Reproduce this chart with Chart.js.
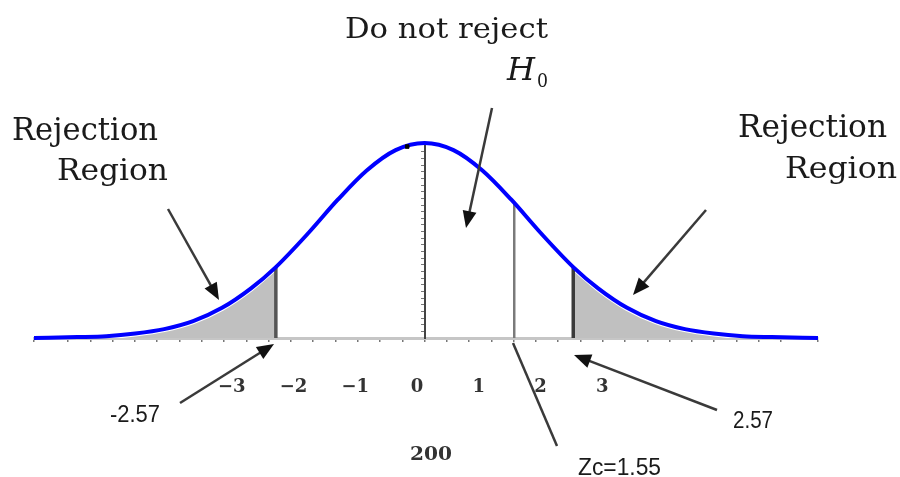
<!DOCTYPE html>
<html>
<head>
<meta charset="utf-8">
<script src="https://cdn.jsdelivr.net/npm/chart.js@4.4.1/dist/chart.umd.min.js"></script>
<style>
  html, body { margin: 0; padding: 0; background: #fff; }
  #wrap { width: 900px; height: 477px; }
</style>
</head>
<body>
<div id="wrap"><canvas id="chart"></canvas></div>
<script>
// curve heights, at these z positions
const zValues = [-6.75, -6, -5.5, -5, -4.5, -4, -3.5, -3, -2.57, -2, -1.5, -1, -0.5, 0, 0.5, 1, 1.5, 2, 2.57, 3, 3.5, 4, 4.5, 5, 5.5, 6, 6.8];
const density = [0.000, 0.001, 0.002, 0.005, 0.010, 0.019, 0.034, 0.056, 0.080, 0.119, 0.156, 0.189, 0.212, 0.220, 0.212, 0.189, 0.156, 0.119, 0.080, 0.056, 0.034, 0.019, 0.010, 0.005, 0.002, 0.001, 0.000];

// critical values and the height of the curve there
const cutZ = [-2.57, 1.55, 2.57];
const cutHeight = [0.080, 0.153, 0.080];
const cutColors = ['#555', '#7a7a7a', '#3a3a3a'];

// tick labels under the axis
const tickLabels = [-3, -2, -1, 0, 1, 2, 3];

const curve = zValues.map((z, i) => ({ x: z, y: density[i] }));
const leftTail = curve.filter(p => p.x <= cutZ[0]);
const rightTail = curve.filter(p => p.x >= cutZ[2]);

const serif = '"DejaVu Serif", "Liberation Serif", serif';
const sans = '"Liberation Sans", Arial, sans-serif';

// text and arrows laid over the plot
const notes = [
  { text: 'Do not reject', x: 345, y: 38, w: 203, font: '28px ' + serif },
  { text: 'H', x: 507, y: 80, w: 28, font: 'italic 31px ' + serif },
  { text: '0', x: 537, y: 87, w: 11, font: '19px ' + serif },
  { text: 'Rejection', x: 12, y: 140, w: 146, font: '31px ' + serif },
  { text: 'Region', x: 57, y: 180, w: 111, font: '30px ' + serif },
  { text: 'Rejection', x: 738, y: 137, w: 149, font: '31px ' + serif },
  { text: 'Region', x: 785, y: 178, w: 112, font: '30px ' + serif },
  { text: '-2.57', x: 110, y: 422, w: 50, font: '24px ' + sans },
  { text: '2.57', x: 733, y: 428, w: 40, font: '24px ' + sans },
  { text: 'Zc=1.55', x: 578, y: 475, w: 83, font: '23px ' + sans },
  { text: '200', x: 410, y: 460, w: 42, font: 'bold 19px ' + serif, color: '#333' }
];
const arrows = [
  { from: [168, 209], to: [219, 300], head: true },
  { from: [492, 108], to: [466, 228], head: true },
  { from: [706, 210], to: [633, 295], head: true },
  { from: [180, 403], to: [274, 344], head: true },
  { from: [717, 410], to: [574, 355], head: true },
  { from: [513, 343], to: [557, 446], head: false }
];

const overlay = {
  id: 'overlay',
  afterDraw(chart) {
    const ctx = chart.ctx;
    ctx.save();
    ctx.textBaseline = 'alphabetic';
    ctx.textAlign = 'left';
    notes.forEach(n => {
      ctx.font = n.font;
      ctx.fillStyle = n.color || '#1a1a1a';
      const sx = n.w / ctx.measureText(n.text).width;
      ctx.save();
      ctx.translate(n.x, n.y);
      ctx.scale(sx, 1);
      ctx.fillText(n.text, 0, 0);
      ctx.restore();
    });
    arrows.forEach(a => {
      const [x1, y1] = a.from;
      const [x2, y2] = a.to;
      const ang = Math.atan2(y2 - y1, x2 - x1);
      const len = 17, half = 7;
      const ex = a.head ? x2 - Math.cos(ang) * len * 0.8 : x2;
      const ey = a.head ? y2 - Math.sin(ang) * len * 0.8 : y2;
      ctx.strokeStyle = '#3a3a3a';
      ctx.lineWidth = 2.5;
      ctx.beginPath();
      ctx.moveTo(x1, y1);
      ctx.lineTo(ex, ey);
      ctx.stroke();
      if (a.head) {
        const bx = x2 - Math.cos(ang) * len;
        const by = y2 - Math.sin(ang) * len;
        ctx.fillStyle = '#111';
        ctx.beginPath();
        ctx.moveTo(x2, y2);
        ctx.lineTo(bx - Math.sin(ang) * half, by + Math.cos(ang) * half);
        ctx.lineTo(bx + Math.sin(ang) * half, by - Math.cos(ang) * half);
        ctx.closePath();
        ctx.fill();
      }
    });
    ctx.restore();
  }
};

const cutSets = cutZ.map((z, i) => ({
  data: [{ x: z, y: 0 }, { x: z, y: cutHeight[i] }],
  borderColor: cutColors[i],
  borderWidth: i === 1 ? 2.5 : 3.5,
  pointRadius: 0,
  fill: false,
  order: 3
}));

new Chart(document.getElementById('chart'), {
  type: 'line',
  data: {
    datasets: [
      {
        data: leftTail,
        backgroundColor: '#c0c0c0',
        borderColor: '#fff',
        borderWidth: 6,
        fill: 'origin',
        pointRadius: 0,
        cubicInterpolationMode: 'monotone',
        order: 5
      },
      {
        data: rightTail,
        backgroundColor: '#c0c0c0',
        borderColor: '#fff',
        borderWidth: 6,
        fill: 'origin',
        pointRadius: 0,
        cubicInterpolationMode: 'monotone',
        order: 5
      },
      ...cutSets,
      {
        data: curve,
        borderColor: '#0000ff',
        borderWidth: 4,
        pointRadius: 0,
        fill: false,
        cubicInterpolationMode: 'monotone',
        clip: false,
        order: 1
      },
      {
        data: [{ x: -0.3, y: 0.216 }],
        showLine: false,
        pointStyle: 'rect',
        pointRadius: 2.5,
        backgroundColor: '#000',
        borderColor: '#000',
        clip: false,
        order: 0
      }
    ]
  },
  options: {
    responsive: true,
    maintainAspectRatio: false,
    animation: false,
    events: [],
    layout: { padding: { top: 143, left: 34, right: 82, bottom: 79 } },
    plugins: { legend: { display: false }, tooltip: { enabled: false } },
    scales: {
      x: {
        type: 'linear',
        position: 'bottom',
        weight: 0,
        min: -6.75,
        max: 6.8,
        afterFit(s) { s.height = 10; },
        border: { color: '#c6c6c6', width: 3 },
        grid: { drawOnChartArea: false, drawTicks: true, tickLength: 4, color: '#777', lineWidth: 1.5 },
        ticks: { display: false, stepSize: 0.385 }
      },
      xl: {
        type: 'linear',
        axis: 'x',
        position: 'bottom',
        weight: 1,
        min: -6.2,
        max: 6.49,
        afterFit(s) { s.height = 50; },
        border: { display: false },
        grid: { display: false, drawTicks: false },
        ticks: {
          stepSize: 1,
          autoSkip: false,
          maxRotation: 0,
          padding: 29,
          color: '#333',
          font: { family: '"DejaVu Serif", serif', size: 18, weight: 'bold' },
          callback: v => tickLabels.includes(v) ? (v < 0 ? '\u2212' + Math.abs(v) : String(v)) : ''
        }
      },
      y: {
        type: 'linear',
        position: { x: 0 },
        min: 0,
        max: 0.22,
        border: { color: '#444', width: 2 },
        grid: { drawOnChartArea: false, drawTicks: true, tickLength: 3, color: '#777' },
        ticks: { display: false, stepSize: 0.0075 }
      }
    }
  },
  plugins: [overlay]
});
</script>
</body>
</html>
